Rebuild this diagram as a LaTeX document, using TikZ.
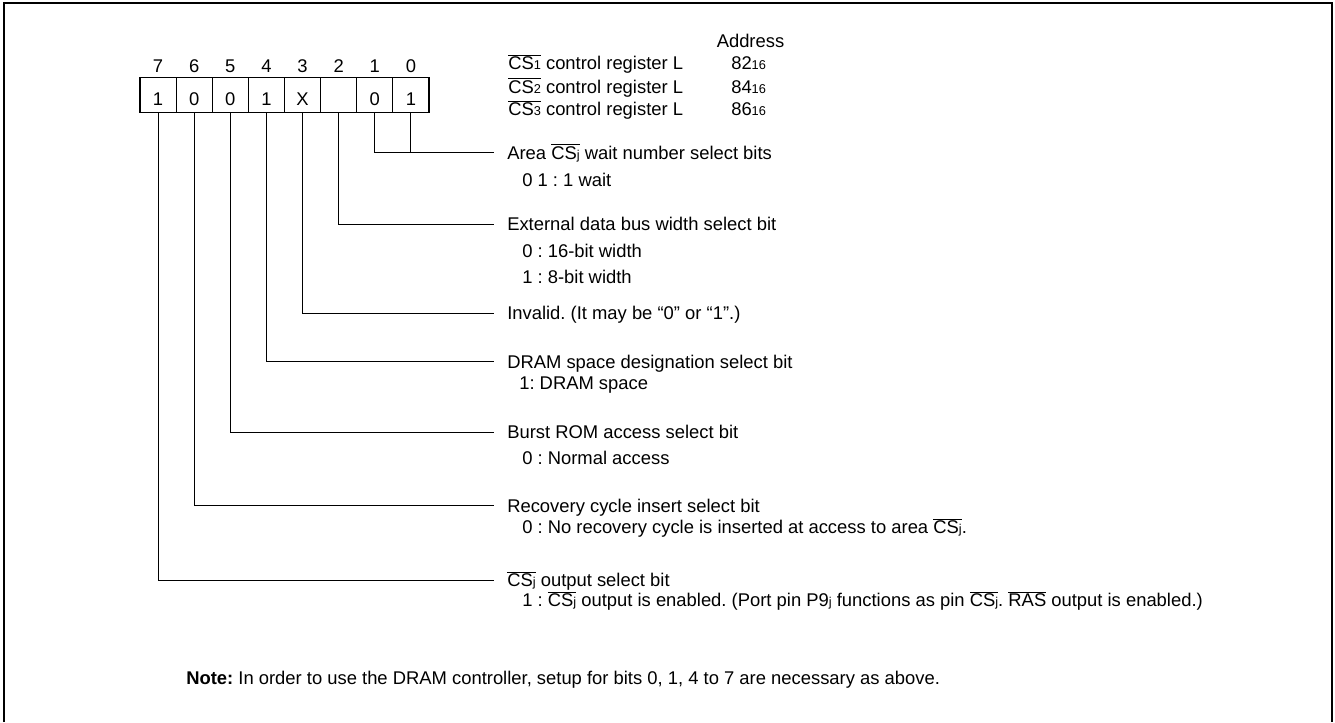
\documentclass[tikz,border=0pt]{standalone}
\usepackage{fontspec}
\setmainfont{Liberation Sans}
\usetikzlibrary{positioning}

\newcommand{\lo}[1]{{\fontsize{9.6}{10}\selectfont #1}}
\newcommand{\ovl}[1]{$\overline{\hbox{#1}}$}
\frenchspacing

\tikzset{
  cell/.style={draw, line width=0.9pt, minimum width=27.1pt, minimum height=26.25pt,
    inner sep=0pt, text height=15.1pt, text depth=0pt},
  bitno/.style={inner sep=0pt},
  lbl/.style={anchor=west, inner xsep=9.75pt, inner ysep=0pt, text height=9.9pt, text depth=0pt},
  opt/.style={anchor=west, inner sep=0pt, text height=9.9pt, text depth=0pt},
  wire/.style={line width=0.75pt},
}

\begin{document}
\begin{tikzpicture}[x=0.75pt, y=-0.75pt, every node/.style={font=\fontsize{13.8}{16}\selectfont}]
 \useasboundingbox (0,0) rectangle (1335,722);
 \draw[line width=1.5pt] (4,722) -- (4,3) -- (1332,3) -- (1332,722);
 % register cells
 \node[cell] (b7) at (158.1,95.2) {1};
 \node[cell] (b6) at (194.2,95.2) {0};
 \node[cell] (b5) at (230.3,95.2) {0};
 \node[cell] (b4) at (266.4,95.2) {1};
 \node[cell] (b3) at (302.6,95.2) {X};
 \node[cell] (b2) at (338.7,95.2) {};
 \node[cell] (b1) at (374.8,95.2) {0};
 \node[cell] (b0) at (410.9,95.2) {1};
 \node[bitno, above=3.3pt of b7] {7};
 \node[bitno, above=3.3pt of b6] {6};
 \node[bitno, above=3.3pt of b5] {5};
 \node[bitno, above=3.3pt of b4] {4};
 \node[bitno, above=3.3pt of b3] {3};
 \node[bitno, above=3.3pt of b2] {2};
 \node[bitno, above=3.3pt of b1] {1};
 \node[bitno, above=3.3pt of b0] {0};
 % register names and addresses
 \node[opt, anchor=center] (addr) at (750.5,41) {Address};
 \node[opt] (reg1) at (508,63) {\ovl{CS\lo{1}} control register L};
 \node[opt] (reg2) at (508,86.5) {\ovl{CS\lo{2}} control register L};
 \node[opt] (reg3) at (508,109) {\ovl{CS\lo{3}} control register L};
 \node[opt] (ad1) at (731,63) {82\lo{16}};
 \node[opt] (ad2) at (731,86.5) {84\lo{16}};
 \node[opt] (ad3) at (731,109) {86\lo{16}};
 % bit descriptions
 \node[lbl] (l10) at (494,152.7) {Area \ovl{CS\lo{j}} wait number select bits};
 \node[opt] at (522,180) {0 1 : 1 wait};
 \node[lbl] (l2) at (494,224.3) {External data bus width select bit};
 \node[opt] at (522,251) {0 : 16-bit width};
 \node[opt] at (522,277) {1 : 8-bit width};
 \node[lbl] (l3) at (494,313) {Invalid. (It may be ``0'' or ``1''.)};
 \node[lbl] (l4) at (494,361.7) {DRAM space designation select bit};
 \node[opt] at (519,383) {1: DRAM space};
 \node[lbl] (l5) at (494,432.3) {Burst ROM access select bit};
 \node[opt] at (522,458) {0 : Normal access};
 \node[lbl] (l6) at (494,505.7) {Recovery cycle insert select bit};
 \node[opt] at (522,527) {0 : No recovery cycle is inserted at access to area \ovl{CS\lo{j}}.};
 \node[lbl] (l7) at (494,580) {\ovl{CS\lo{j}} output select bit};
 \node[opt] at (522,600) {1 : \ovl{CS\lo{j}} output is enabled. (Port pin P9\lo{j} functions as pin \ovl{CS\lo{j}}. \ovl{RAS} output is enabled.)};
 \node[opt] (note) at (186,678) {\textbf{Note:} In order to use the DRAM controller, setup for bits 0, 1, 4 to 7 are necessary as above.};
 % connectors
 \draw[wire] (b1.south) |- (l10.west);
 \draw[wire] (b0.south) -- (b0.south |- l10.west);
 \draw[wire] (b2.south) |- (l2.west);
 \draw[wire] (b3.south) |- (l3.west);
 \draw[wire] (b4.south) |- (l4.west);
 \draw[wire] (b5.south) |- (l5.west);
 \draw[wire] (b6.south) |- (l6.west);
 \draw[wire] (b7.south) |- (l7.west);
\end{tikzpicture}
\end{document}
